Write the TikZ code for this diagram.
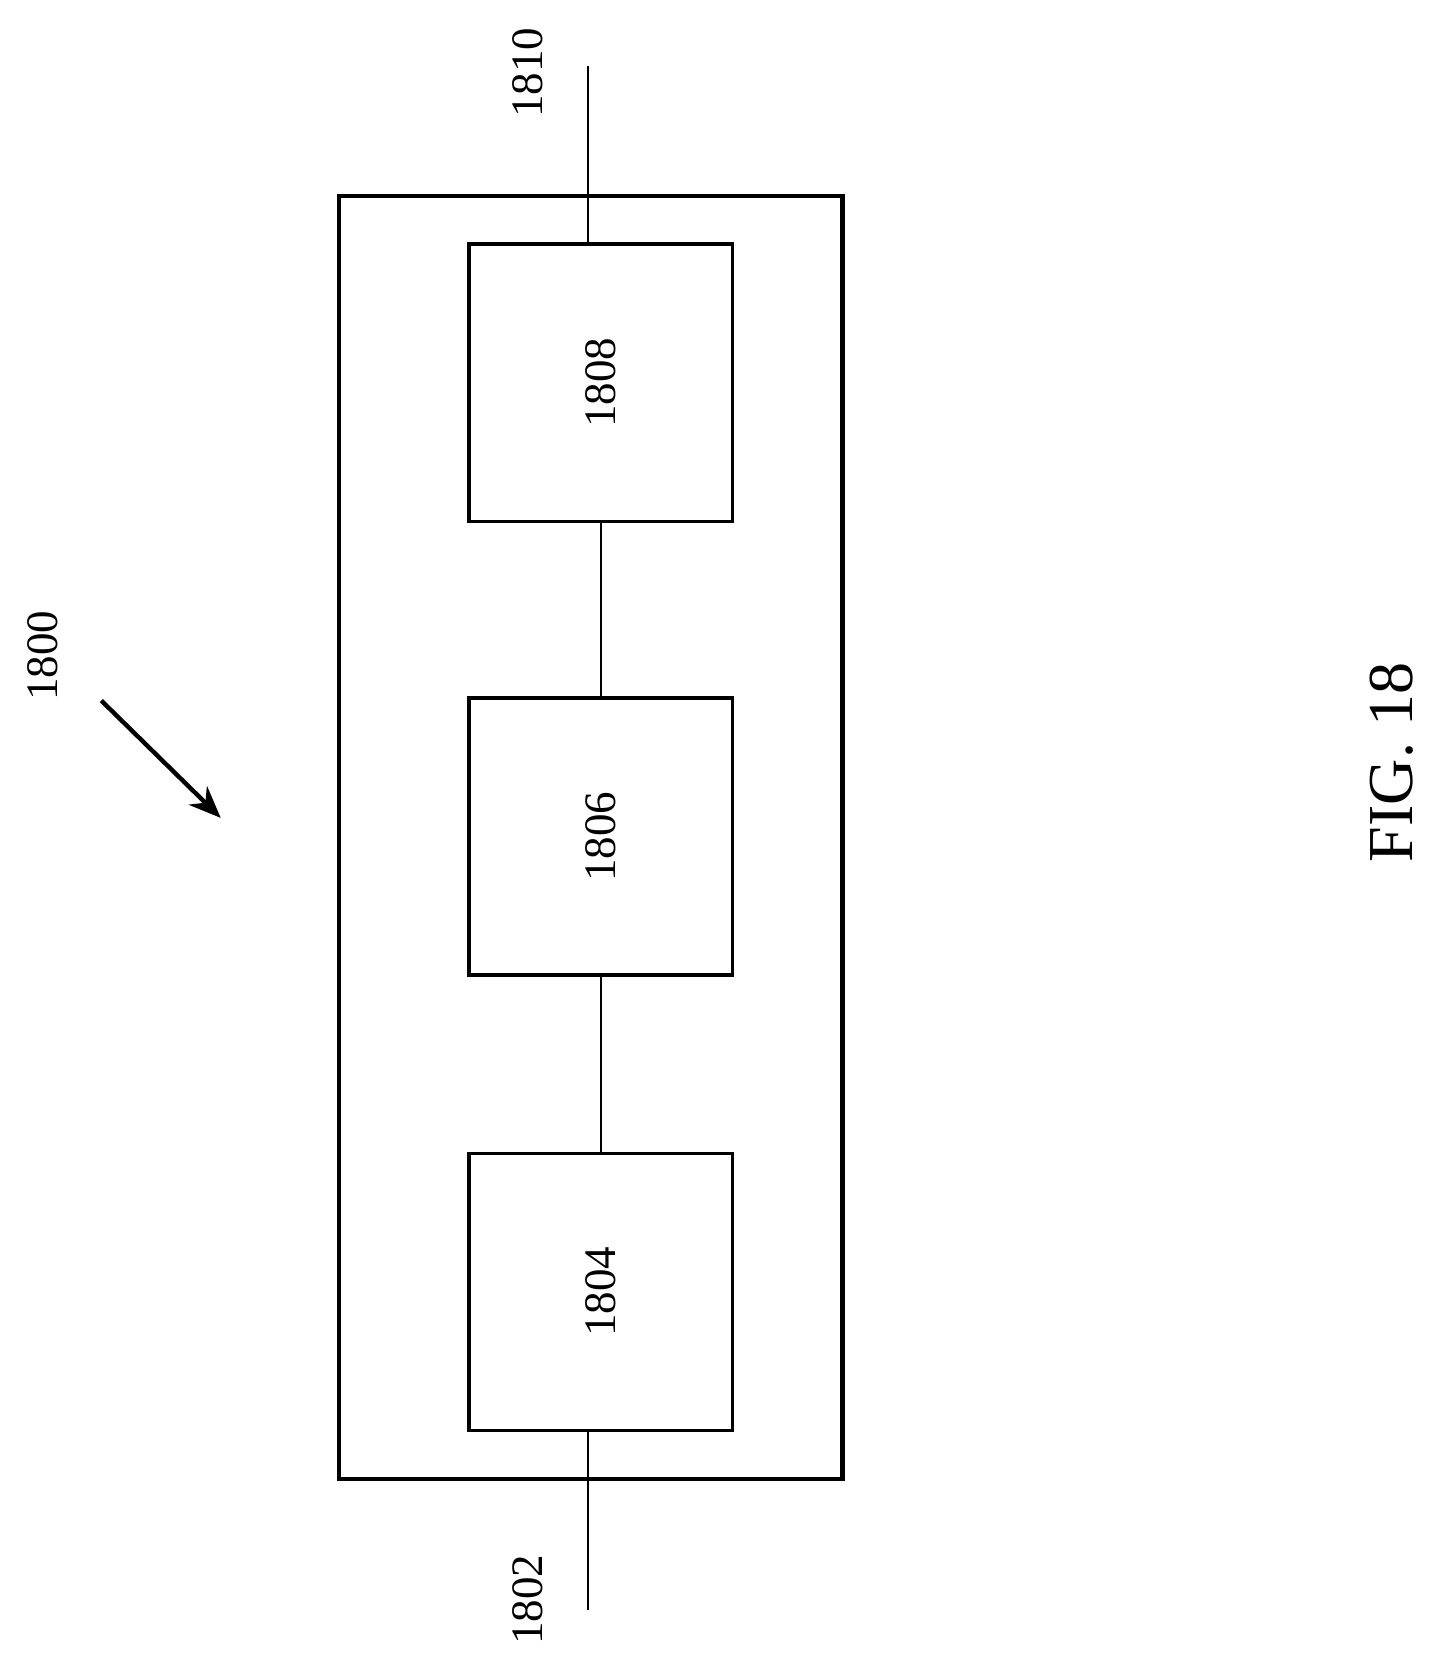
\documentclass[tikz,border=0pt]{standalone}
\usepackage{fontspec}
\setmainfont{Liberation Serif}
\usetikzlibrary{arrows.meta}
\begin{document}
\begin{tikzpicture}[x=0.533pt,y=-0.533pt,
  blk/.style={draw,line width=1.7pt,minimum width=131.7pt,minimum height=138.6pt,inner sep=0pt},
  lbl/.style={rotate=90,font=\fontsize{22.5}{27}\selectfont}]
\useasboundingbox (0,0) rectangle (1345,1568);
\draw[line width=2.1pt] (318,184) rectangle (790,1387);
\node[blk] (b8) at (563.5,359) {};
\node[blk] (b6) at (563.5,784.5) {};
\node[blk] (b4) at (563.5,1211.5) {};
\node[lbl] at (b8) {1808};
\node[lbl] at (b6) {1806};
\node[lbl] at (b4) {1804};
\draw[line width=1pt] (b8.south) -- (b6.north);
\draw[line width=1pt] (b6.south) -- (b4.north);
\coordinate (t) at (551,62);
\coordinate (bt) at (551,1510);
\draw[line width=1pt] (t) -- (b8.north -| t);
\draw[line width=1pt] (b4.south -| bt) -- (bt);
\node[lbl] (l10) at (495,68) {1810};
\node[lbl] (l02) at (495,1500) {1802};
\node[lbl] (l00) at (40,615) {1800};
\coordinate (a1) at (95,657);
\coordinate (a2) at (207,767);
\draw[line width=2.2pt,-{Stealth[length=16pt,width=13pt]}] (a1) -- (a2);
\node[rotate=90,font=\fontsize{32}{36}\selectfont] (fig) at (1305,715) {FIG. 18};
\end{tikzpicture}
\end{document}
